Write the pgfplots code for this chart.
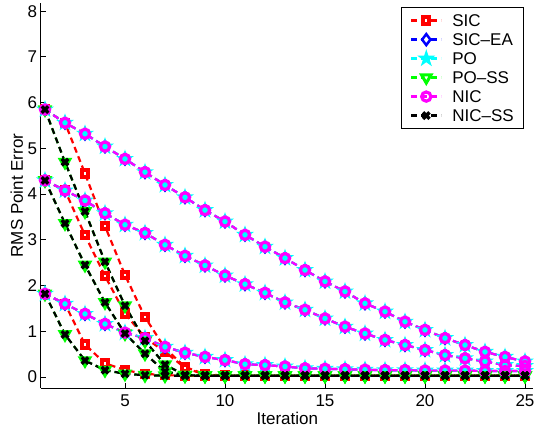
\documentclass[border=0pt]{standalone}
\usepackage{fontspec}
\setmainfont{Liberation Sans}
\usepackage{pgfplots}
\usepackage{pgfplotstable}
\pgfplotsset{compat=1.18}
\usetikzlibrary{plotmarks}

\definecolor{mred}{rgb}{1,0,0}
\definecolor{mblue}{rgb}{0,0,1}
\definecolor{mcyan}{rgb}{0,1,1}
\definecolor{mgreen}{rgb}{0,1,0}
\definecolor{mmag}{rgb}{1,0,1}

\newcommand\chartfont{\fontsize{17}{20}\selectfont}

% filled five-pointed star, like matlab's 'p'
\pgfdeclareplotmark{pentastar}{%
  \pgfpathmoveto{\pgfpointpolar{90}{\pgfplotmarksize}}%
  \pgfpathlineto{\pgfpointpolar{126}{0.382\pgfplotmarksize}}%
  \pgfpathlineto{\pgfpointpolar{162}{\pgfplotmarksize}}%
  \pgfpathlineto{\pgfpointpolar{198}{0.382\pgfplotmarksize}}%
  \pgfpathlineto{\pgfpointpolar{234}{\pgfplotmarksize}}%
  \pgfpathlineto{\pgfpointpolar{270}{0.382\pgfplotmarksize}}%
  \pgfpathlineto{\pgfpointpolar{306}{\pgfplotmarksize}}%
  \pgfpathlineto{\pgfpointpolar{342}{0.382\pgfplotmarksize}}%
  \pgfpathlineto{\pgfpointpolar{18}{\pgfplotmarksize}}%
  \pgfpathlineto{\pgfpointpolar{54}{0.382\pgfplotmarksize}}%
  \pgfpathclose
  \pgfusepathqfillstroke}

% three starting points per method; slow = SIC-EA/PO/NIC, ss = PO-SS/NIC-SS
\pgfplotstableread{
it slowA slowB slowC sicA sicB sicC ssA ssB ssC
1  5.85 4.30 1.82 5.85 4.30 1.82 5.85 4.30 1.82
2  5.56 4.08 1.60 5.56 4.08 1.60 4.70 3.36 0.93
3  5.32 3.86 1.38 4.45 3.10 0.71 3.62 2.45 0.36
4  5.04 3.58 1.16 3.30 2.21 0.30 2.52 1.63 0.15
5  4.77 3.33 0.97 2.23 1.39 0.15 1.56 0.95 0.07
6  4.48 3.15 0.85 1.31 0.86 0.07 0.79 0.51 0.04
7  4.20 2.89 0.66 0.63 0.55 0.04 0.27 0.12 0.03
8  3.93 2.65 0.53 0.22 0.20 0.03 0.04 0.04 0.03
9  3.65 2.44 0.44 0.06 0.05 0.03 0.03 0.03 0.03
10 3.40 2.22 0.37 0.03 0.03 0.03 0.03 0.03 0.03
11 3.11 2.03 0.28 0.03 0.03 0.03 0.03 0.03 0.03
12 2.85 1.84 0.26 0.03 0.03 0.03 0.03 0.03 0.03
13 2.60 1.63 0.23 0.03 0.03 0.03 0.03 0.03 0.03
14 2.34 1.47 0.19 0.03 0.03 0.03 0.03 0.03 0.03
15 2.09 1.28 0.18 0.03 0.03 0.03 0.03 0.03 0.03
16 1.87 1.10 0.17 0.03 0.03 0.03 0.03 0.03 0.03
17 1.61 0.95 0.16 0.03 0.03 0.03 0.03 0.03 0.03
18 1.43 0.81 0.15 0.03 0.03 0.03 0.03 0.03 0.03
19 1.21 0.70 0.15 0.03 0.03 0.03 0.03 0.03 0.03
20 1.03 0.59 0.14 0.03 0.03 0.03 0.03 0.03 0.03
21 0.85 0.48 0.14 0.03 0.03 0.03 0.03 0.03 0.03
22 0.70 0.41 0.14 0.03 0.03 0.03 0.03 0.03 0.03
23 0.55 0.34 0.13 0.03 0.03 0.03 0.03 0.03 0.03
24 0.44 0.26 0.13 0.03 0.03 0.03 0.03 0.03 0.03
25 0.34 0.24 0.13 0.03 0.03 0.03 0.03 0.03 0.03
}\runs

\pgfplotsset{
  dashline/.style={line width=2.2pt, dash pattern=on 6pt off 4pt},
  sic/.style={mred, dashline, mark=square*, mark size=3.2pt,
    mark options={solid, draw=mred, fill=white, line width=4pt}},
  sicea/.style={mblue, dashline, mark=diamond*, mark size=5.5pt,
    mark options={solid, draw=mblue, fill=white, line width=2.5pt}},
  po/.style={mcyan, dashline, mark=pentastar, mark size=7pt,
    mark options={solid, draw=mcyan, fill=mcyan, line width=1.5pt}},
  poss/.style={mgreen, dashline, mark=triangle*, mark size=5.5pt,
    mark options={solid, rotate=180, draw=mgreen, fill=white, line width=3pt}},
  nic/.style={mmag, dashline, mark=o, mark size=4.6pt,
    mark options={solid, draw=mmag, line width=3.2pt}},
  nicss/.style={black, dashline, mark=x, mark size=4.6pt,
    mark options={solid, draw=black, line width=3.4pt}},
}

\begin{document}
\begin{tikzpicture}
\useasboundingbox (-40.7pt,-45pt) rectangle (495.3pt,388pt);
\begin{axis}[
  at={(0pt,0pt)}, anchor=south west,
  width=492.3pt, height=385pt, scale only axis,
  xmin=0.785, xmax=25.4, ymin=-0.24, ymax=8.18,
  xtick={5,10,...,25}, ytick={0,1,...,8},
  axis lines=left, axis line style={-, line width=0.9pt},
  tick align=inside, major tick length=5pt,
  tick style={line width=0.9pt, black},
  font=\chartfont,
  tick label style={font=\chartfont, /pgf/number format/assume math mode=true},
  xticklabel style={yshift=-3pt},
  xlabel={Iteration}, ylabel={RMS Point Error},
  xlabel style={at={(axis description cs:0.501,-0.0961)}, anchor=base},
  ylabel style={at={(axis description cs:-0.036,0.5)}, anchor=base},
  clip=false,
  legend cell align=left,
  legend image code/.code={\draw[mark repeat=2, mark phase=2, #1]
    plot coordinates {(0pt,0pt) (15pt,0pt) (30pt,0pt)};},
  legend style={at={(0.982,0.989)}, anchor=north east, draw=black,
    line width=0.7pt, fill=white, font=\chartfont,
    inner xsep=9pt, inner ysep=5pt, row sep=3pt, column sep=9pt,
    nodes={inner sep=1pt, text height=12.5pt, text depth=1.5pt}},
]
\addplot[sic] table[x=it, y=sicA]{\runs}; \addlegendentry{SIC}
\addplot[sic, forget plot] table[x=it, y=sicB]{\runs};
\addplot[sic, forget plot] table[x=it, y=sicC]{\runs};
\addplot[sicea] table[x=it, y=slowA]{\runs}; \addlegendentry{SIC–EA}
\addplot[sicea, forget plot] table[x=it, y=slowB]{\runs};
\addplot[sicea, forget plot] table[x=it, y=slowC]{\runs};
\addplot[po] table[x=it, y=slowA]{\runs}; \addlegendentry{PO}
\addplot[po, forget plot] table[x=it, y=slowB]{\runs};
\addplot[po, forget plot] table[x=it, y=slowC]{\runs};
\addplot[poss] table[x=it, y=ssA]{\runs}; \addlegendentry{PO–SS}
\addplot[poss, forget plot] table[x=it, y=ssB]{\runs};
\addplot[poss, forget plot] table[x=it, y=ssC]{\runs};
\addplot[nic] table[x=it, y=slowA]{\runs}; \addlegendentry{NIC}
\addplot[nic, forget plot] table[x=it, y=slowB]{\runs};
\addplot[nic, forget plot] table[x=it, y=slowC]{\runs};
\addplot[nicss] table[x=it, y=ssA]{\runs}; \addlegendentry{NIC–SS}
\addplot[nicss, forget plot] table[x=it, y=ssB]{\runs};
\addplot[nicss, forget plot] table[x=it, y=ssC]{\runs};
\end{axis}
\end{tikzpicture}
\end{document}
